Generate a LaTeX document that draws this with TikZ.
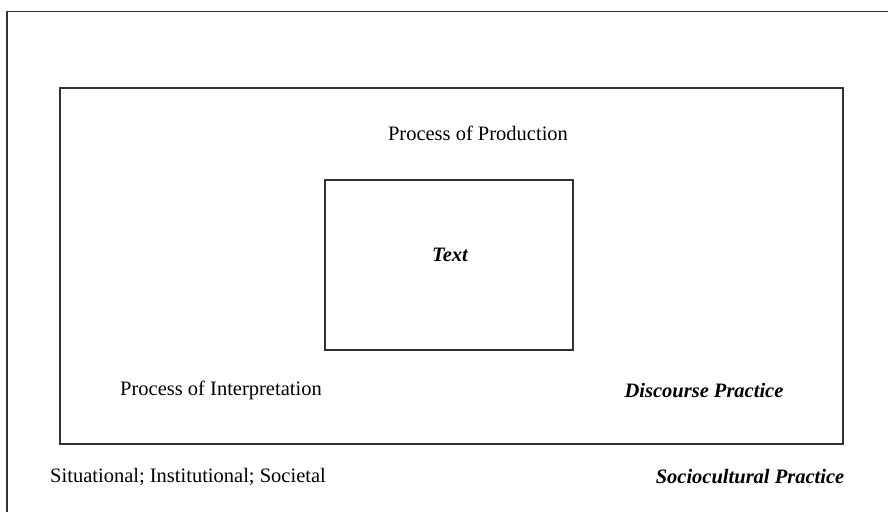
\documentclass[tikz,border=0pt]{standalone}
\usepackage{fontspec}
\setmainfont{Liberation Serif}
\usepackage{tikz}
\usetikzlibrary{positioning}
\tikzstyle{boite-std}=[draw=black!80,line width=1.2pt,inner sep=0pt]
\tikzstyle{texte-std}=[inner sep=0pt,font=\fontsize{20.5}{24}\selectfont]
\tikzstyle{texte-gras}=[texte-std,font=\fontsize{20.5}{24}\selectfont\bfseries\itshape]

\begin{document}
\begin{tikzpicture}[x=1pt,y=1pt]
\useasboundingbox (0,0) rectangle (888,512);
% cadre exterieur (haut et gauche seulement)
\draw[black!80,line width=1.2pt] (7,0) |- (888,500.5);

\node[boite-std,minimum width=783pt,minimum height=356pt] (discours) at (451.5,246) {};
\node[boite-std,minimum width=248pt,minimum height=170pt] (texte) at (449,247) {};

\node[texte-gras] (mot-texte) at (450,257) {Text};
\node[texte-std] (production) at (478,379) {Process of Production};
\node[texte-std] (interpretation) at (221,122) {Process of Interpretation};
\node[texte-gras] (pratique-discours) at (704,121) {Discourse Practice};
\node[texte-std] (situationnel) at (188,35) {Situational; Institutional; Societal};
\node[texte-gras] (pratique-socio) at (750,35) {Sociocultural Practice};
\end{tikzpicture}
\end{document}
